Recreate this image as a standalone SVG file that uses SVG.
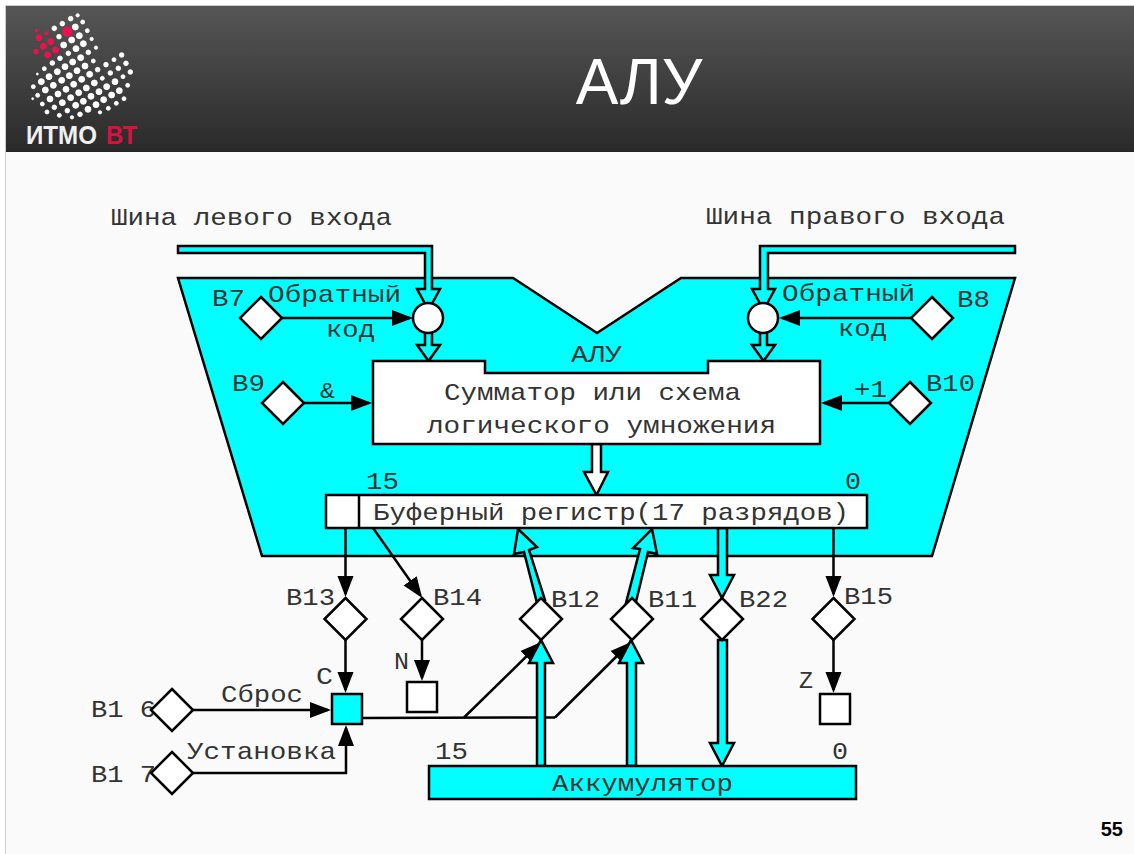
<svg xmlns="http://www.w3.org/2000/svg" width="1134" height="854" viewBox="0 0 1134 854">
<style>
.s{stroke:#000;stroke-width:2.5;stroke-linejoin:miter}
.n{fill:#fff}
.c{fill:#0ff}
.l{fill:none;stroke:#000;stroke-width:2.5}
.a{marker-end:url(#h)}
.t{font-family:"Liberation Mono",monospace;font-size:24px;fill:#333}
.r{fill:#f01050;stroke:#f01050}
.rr{fill:#d8123f}
</style>
<defs>
<linearGradient id="g" x1="0" y1="0" x2="0" y2="1"><stop offset="0" stop-color="#565656"/><stop offset="1" stop-color="#2a2a2a"/></linearGradient>
<marker id="h" markerUnits="userSpaceOnUse" markerWidth="24" markerHeight="18" refX="18" refY="8.5" orient="auto"><path d="M0 .5L21 8.5L0 16.5Z" fill="#000"/></marker>
<polygon id="d" points="0,-21 21,0 0,21 -21,0" class="s n"/>
</defs>
<rect width="1134" height="854" fill="#fff"/>
<rect x="5.5" y="5.5" width="1129" height="849" fill="#fafafa" stroke="#ccc"/>
<g id="header">
<rect x="6" y="6" width="1128" height="145" fill="url(#g)"/>
<rect x="6" y="151" width="1128" height="1" fill="#222"/>
<text x="639" y="104" text-anchor="middle" font-family="'Liberation Sans',sans-serif" font-size="64" fill="#fff">АЛУ</text>
<g id="logo" transform="scale(.3333)" fill="#fff" stroke="#fff" stroke-width="2.5">
<circle cx="233" cy="46" r="5"/><circle cx="212" cy="56" r="7"/><circle cx="187" cy="71" r="7"/><circle cx="163" cy="85" r="7"/><circle cx="248" cy="66" r="6"/><circle cx="226" cy="81" r="9"/><circle cx="177" cy="110" r="7"/><circle cx="262" cy="92" r="6"/><circle cx="238" cy="107" r="9"/><circle cx="215" cy="120" r="9"/><circle cx="191" cy="135" r="9"/><circle cx="275" cy="117" r="5"/><circle cx="250" cy="131" r="9"/><circle cx="228" cy="146" r="9"/><circle cx="205" cy="160" r="7"/><circle cx="157" cy="189" r="7"/><circle cx="288" cy="143" r="5"/><circle cx="265" cy="157" r="7"/><circle cx="242" cy="173" r="9"/><circle cx="218" cy="186" r="9"/><circle cx="195" cy="200" r="9"/><circle cx="172" cy="215" r="9"/><circle cx="147" cy="230" r="9"/><circle cx="124" cy="245" r="9"/><circle cx="100" cy="260" r="6"/><circle cx="180" cy="175" r="7"/><circle cx="133" cy="206" r="6"/><circle cx="112" cy="222" r="3"/><circle cx="280" cy="183" r="6"/><circle cx="255" cy="198" r="9"/><circle cx="231" cy="212" r="9"/><circle cx="208" cy="227" r="9"/><circle cx="185" cy="241" r="9"/><circle cx="160" cy="256" r="9"/><circle cx="136" cy="270" r="9"/><circle cx="113" cy="286" r="6"/><circle cx="293" cy="209" r="7"/><circle cx="269" cy="223" r="9"/><circle cx="245" cy="238" r="9"/><circle cx="221" cy="253" r="9"/><circle cx="198" cy="268" r="9"/><circle cx="174" cy="282" r="9"/><circle cx="150" cy="297" r="9"/><circle cx="127" cy="312" r="6"/><circle cx="98" cy="296" r="3"/><circle cx="307" cy="235" r="6"/><circle cx="283" cy="249" r="9"/><circle cx="259" cy="264" r="9"/><circle cx="236" cy="278" r="9"/><circle cx="212" cy="293" r="9"/><circle cx="187" cy="308" r="9"/><circle cx="163" cy="322" r="7"/><circle cx="141" cy="336" r="6"/><circle cx="320" cy="260" r="9"/><circle cx="297" cy="275" r="9"/><circle cx="273" cy="289" r="9"/><circle cx="250" cy="304" r="9"/><circle cx="227" cy="316" r="9"/><circle cx="202" cy="332" r="7"/><circle cx="178" cy="346" r="6"/><circle cx="345" cy="245" r="9"/><circle cx="358" cy="272" r="9"/><circle cx="335" cy="285" r="9"/><circle cx="311" cy="299" r="9"/><circle cx="288" cy="314" r="9"/><circle cx="264" cy="328" r="9"/><circle cx="240" cy="343" r="7"/><circle cx="216" cy="352" r="5"/><circle cx="365" cy="165" r="7"/><circle cx="342" cy="179" r="6"/><circle cx="318" cy="194" r="7"/><circle cx="378" cy="190" r="7"/><circle cx="355" cy="205" r="7"/><circle cx="331" cy="219" r="7"/><circle cx="391" cy="216" r="7"/><circle cx="369" cy="230" r="6"/><circle cx="383" cy="256" r="6"/><circle cx="372" cy="296" r="6"/><circle cx="349" cy="310" r="6"/><circle cx="325" cy="325" r="6"/><circle cx="300" cy="337" r="5"/>
<g class="r"><circle cx="202" cy="95" r="14"/><circle cx="140" cy="100" r="5"/><circle cx="117" cy="113" r="9"/><circle cx="109" cy="92" r="4"/><circle cx="152" cy="125" r="9"/><circle cx="130" cy="139" r="9"/><circle cx="108" cy="155" r="7"/><circle cx="167" cy="150" r="9"/><circle cx="143" cy="165" r="9"/></g>
</g>
<text x="26" y="144" font-family="'Liberation Sans',sans-serif" font-size="25" font-weight="bold" fill="#f0f0f0" textLength="71" lengthAdjust="spacingAndGlyphs">ИТМО</text>
<text x="106" y="144" font-family="'Liberation Sans',sans-serif" font-size="25" font-weight="bold" class="rr" textLength="31" lengthAdjust="spacingAndGlyphs">ВТ</text>
</g>
<text x="1123" y="836" text-anchor="end" font-family="'Liberation Sans',sans-serif" font-size="20" font-weight="bold" fill="#000">55</text>

<polygon id="alu-body" class="s c" points="178,278 513,278 597,333 681,278 1015,278 932,556 262,556"/>

<g id="connectors">
<polygon class="s c" points="178,246 432,246 432,289 440,289 428.5,310 417,289 425,289 425,253 178,253"/>
<polygon class="s c" points="1015,246 760,246 760,289 752,289 763.5,310 775,289 768,289 768,253 1015,253"/>
<polygon class="s c" points="425,330 432,330 432,345 440,345 428.5,361 417,345 425,345"/>
<polygon class="s c" points="760,330 767,330 767,345 775,345 763.5,361 752,345 760,345"/>
<polygon class="s n" points="592,444 601,444 601,472 608,472 596.5,495 584,472 592,472"/>
<line class="l a" x1="280" y1="318" x2="410" y2="318"/>
<line class="l a" x1="912" y1="318" x2="782" y2="318"/>
<line class="l a" x1="302" y1="403" x2="369" y2="403"/>
<line class="l a" x1="890" y1="403" x2="824" y2="403"/>
<line class="l a" x1="345.5" y1="528" x2="345.5" y2="594"/>
<line class="l a" x1="373" y1="528" x2="420.5" y2="595.5"/>
<line class="l a" x1="833.5" y1="528" x2="833.5" y2="594"/>
<line class="l a" x1="345.5" y1="640" x2="345.5" y2="690"/>
<line class="l a" x1="422" y1="640" x2="422" y2="678"/>
<line class="l a" x1="833.5" y1="640" x2="833.5" y2="690"/>
<line class="l a" x1="193" y1="710" x2="328" y2="710"/>
<path class="l a" d="M193 773H346V728"/>
<path class="l" d="M362 718L555 717.5"/>
<path class="l a" d="M555 717.5L629 644"/>
<path class="l a" d="M464 717.5L539 644"/>
<polygon class="s c" points="537,766 537,663 529,663 541,640 553,663 545,663 545,766"/>
<polygon class="s c" points="627,766 627,663 619,663 631,640 643,663 636,663 636,766"/>
<polygon class="s c" points="718,640 727,640 727,743 734,743 722,766 710,743 718,743"/>
<polygon class="s c" points="718,528 727,528 727,575 734,575 722,598 710,575 718,575"/>
<polygon class="s c" points="518,529 537,547 529,550 545,600 537,603 524,552 514,554"/>
<polygon class="s c" points="652,529 657,554 648,552 635,606 626,603 640,549 633,548"/>
</g>

<g id="mux-left"><circle cx="428" cy="318" r="15" class="s n"/></g>
<g id="mux-right"><circle cx="763" cy="318" r="15" class="s n"/></g>
<g id="adder">
<polygon class="s n" points="373,361 485,361 485,373 708,373 708,361 820,361 820,444 373,444"/>
<text class="t" x="444" y="400" textLength="297" lengthAdjust="spacingAndGlyphs">Сумматор или схема</text>
<text class="t" x="427" y="433" textLength="349" lengthAdjust="spacingAndGlyphs">логического умножения</text>
</g>
<g id="buffer">
<rect class="s n" x="326" y="495" width="541" height="33"/>
<line class="l" x1="359" y1="495" x2="359" y2="528"/>
<text class="t" x="373" y="520" textLength="476" lengthAdjust="spacingAndGlyphs">Буферный регистр(17 разрядов)</text>
</g>
<g id="accumulator">
<rect class="s c" x="429" y="766" width="427" height="33"/>
<text class="t" x="552" y="791" textLength="181" lengthAdjust="spacingAndGlyphs">Аккумулятор</text>
</g>
<g id="flag-c"><rect class="s c" x="332" y="694" width="30" height="30"/></g>
<g id="flag-n"><rect class="s n" x="407" y="682" width="30" height="30"/></g>
<g id="flag-z"><rect class="s n" x="820" y="694" width="30" height="30"/></g>

<g id="b7"><use href="#d" x="261" y="318"/><text class="t" x="212" y="306" textLength="33" lengthAdjust="spacingAndGlyphs">В7</text></g>
<g id="b8"><use href="#d" x="932" y="318"/><text class="t" x="957" y="307" textLength="33" lengthAdjust="spacingAndGlyphs">В8</text></g>
<g id="b9"><use href="#d" x="283" y="403"/><text class="t" x="232" y="391" textLength="33" lengthAdjust="spacingAndGlyphs">В9</text></g>
<g id="b10"><use href="#d" x="910" y="403"/><text class="t" x="926" y="391" textLength="49" lengthAdjust="spacingAndGlyphs">В10</text></g>
<g id="b11"><use href="#d" x="632" y="619"/><text class="t" x="648" y="607" textLength="49" lengthAdjust="spacingAndGlyphs">В11</text></g>
<g id="b12"><use href="#d" x="541" y="619"/><text class="t" x="551" y="607" textLength="49" lengthAdjust="spacingAndGlyphs">В12</text></g>
<g id="b13"><use href="#d" x="345.5" y="619"/><text class="t" x="286" y="605" textLength="49" lengthAdjust="spacingAndGlyphs">В13</text></g>
<g id="b14"><use href="#d" x="422" y="619"/><text class="t" x="433" y="605" textLength="49" lengthAdjust="spacingAndGlyphs">В14</text></g>
<g id="b15"><use href="#d" x="833.5" y="619"/><text class="t" x="844" y="604" textLength="49" lengthAdjust="spacingAndGlyphs">В15</text></g>
<g id="b22"><use href="#d" x="722" y="619"/><text class="t" x="739" y="607" textLength="49" lengthAdjust="spacingAndGlyphs">В22</text></g>
<g id="b16"><text class="t" x="91" y="717" textLength="65" lengthAdjust="spacingAndGlyphs">В1 6</text><use href="#d" x="172" y="710"/></g>
<g id="b17"><text class="t" x="91" y="782" textLength="65" lengthAdjust="spacingAndGlyphs">В1 7</text><use href="#d" x="172" y="773"/></g>

<g id="labels">
<text class="t" x="111" y="225" textLength="281" lengthAdjust="spacingAndGlyphs">Шина левого входа</text>
<text class="t" x="706" y="224" textLength="299" lengthAdjust="spacingAndGlyphs">Шина правого входа</text>
<text class="t" x="268" y="302" textLength="133" lengthAdjust="spacingAndGlyphs">Обратный</text>
<text class="t" x="326" y="337" textLength="49" lengthAdjust="spacingAndGlyphs">код</text>
<text class="t" x="782" y="301" textLength="133" lengthAdjust="spacingAndGlyphs">Обратный</text>
<text class="t" x="838" y="336" textLength="49" lengthAdjust="spacingAndGlyphs">код</text>
<text class="t" style="font-size:22px" x="320" y="398" textLength="15" lengthAdjust="spacingAndGlyphs">&amp;</text>
<text class="t" x="854" y="397" textLength="33" lengthAdjust="spacingAndGlyphs">+1</text>
<text class="t" x="571" y="362" textLength="51" lengthAdjust="spacingAndGlyphs">АЛУ</text>
<text class="t" x="366" y="489" textLength="33" lengthAdjust="spacingAndGlyphs">15</text>
<text class="t" x="845" y="489" textLength="16" lengthAdjust="spacingAndGlyphs">0</text>
<text class="t" x="435" y="759" textLength="33" lengthAdjust="spacingAndGlyphs">15</text>
<text class="t" x="832" y="759" textLength="16" lengthAdjust="spacingAndGlyphs">0</text>
<text class="t" x="221" y="702" textLength="82" lengthAdjust="spacingAndGlyphs">Сброс</text>
<text class="t" x="187" y="759" textLength="149" lengthAdjust="spacingAndGlyphs">Установка</text>
<text class="t" x="316" y="684" textLength="17" lengthAdjust="spacingAndGlyphs">С</text>
<text class="t" x="394" y="669" textLength="15" lengthAdjust="spacingAndGlyphs">N</text>
<text class="t" x="799" y="688" textLength="14" lengthAdjust="spacingAndGlyphs">Z</text>
</g>
</svg>
